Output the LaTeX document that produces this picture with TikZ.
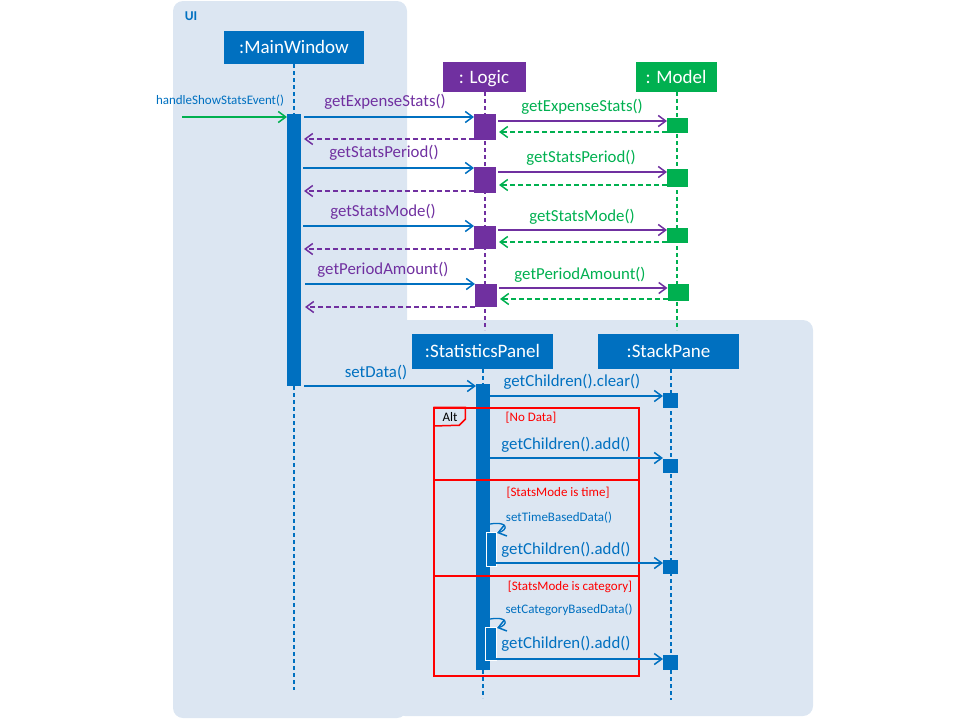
\documentclass[tikz,border=0pt]{standalone}
\usepackage{fontspec}
\setmainfont{Carlito}
\usetikzlibrary{arrows.meta}
\definecolor{uiblue}{HTML}{0070C0}
\definecolor{lpurple}{HTML}{7030A0}
\definecolor{mgreen}{HTML}{00B050}
\definecolor{bgblue}{HTML}{DCE6F2}
\definecolor{altred}{HTML}{FF0000}
\begin{document}
\begin{tikzpicture}[x=1pt,y=-1pt,
  objbox/.style={rectangle, inner sep=0pt, outer sep=0pt, fill=#1, text=white, text height=14pt, text depth=1.8pt, font=\fontsize{19}{22}\selectfont},
  actbar/.style={rectangle, inner sep=0pt, outer sep=0pt, fill=#1},
  nestbar/.style={rectangle, inner sep=0pt, outer sep=0pt, fill=uiblue, draw=white, line width=1pt},
  life/.style={draw=#1, line width=1.5pt, dash pattern=on 4pt off 3pt},
  msg/.style={draw=#1, line width=1.5pt, -{Straight Barb[length=7.5pt,width=11pt,line width=1.5pt]}},
  ret/.style={draw=#1, line width=1.5pt, dash pattern=on 5pt off 3pt, -{Straight Barb[length=7.5pt,width=11pt,line width=1.5pt]}},
  lbl/.style={inner sep=0pt, text=#1, font=\fontsize{16.8}{20}\selectfont},
  slbl/.style={inner sep=0pt, text=#1, font=\fontsize{13}{15}\selectfont},
  frame/.style={draw=altred, line width=1.5pt}]
\useasboundingbox (0,0) rectangle (960,720);
% background regions
\fill[bgblue, rounded corners=10pt] (395,320) rectangle (813,716);
\fill[bgblue, rounded corners=10pt] (173,1) rectangle (407,718);
\node[inner sep=0pt, text=uiblue, font=\bfseries\fontsize{13.5}{15}\selectfont] (uilbl) at (191,16) {UI};
% objects
\node[objbox=uiblue, minimum width=140pt, minimum height=33pt] (mw) at (294,47.5) {:MainWindow};
\node[objbox=lpurple, minimum width=83pt, minimum height=30pt] (lg) at (484,77) {: Logic};
\node[objbox=mgreen, minimum width=81pt, minimum height=30pt] (md) at (676,77) {: Model};
\node[objbox=uiblue, minimum width=141pt, minimum height=35pt] (sp) at (482.5,351.5) {:StatisticsPanel};
\node[objbox=uiblue, minimum width=141pt, minimum height=35pt] (sk) at (668.5,351.5) {:StackPane};
% lifeline ends
\coordinate (mwend) at (294,690);
\coordinate (lgend) at (485,330);
\coordinate (mdend) at (677,330);
\coordinate (spend) at (483,698);
\coordinate (skend) at (671,700);
\draw[life=uiblue] (mw.south -| mwend) -- (mwend);
\draw[life=lpurple] (lg.south -| lgend) -- (lgend);
\draw[life=mgreen] (md.south -| mdend) -- (mdend);
\draw[life=uiblue] (sp.south -| spend) -- (spend);
\draw[life=uiblue] (sk.south -| skend) -- (skend);
% activation bars
\node[actbar=uiblue, minimum width=14pt, minimum height=272pt] (mwbar) at (294,250) {};
\node[actbar=lpurple, minimum width=22pt, minimum height=26pt] (l1) at (485,127) {};
\node[actbar=mgreen, minimum width=21pt, minimum height=15pt] (m1) at (677.5,125.5) {};
\node[actbar=lpurple, minimum width=22pt, minimum height=26pt] (l2) at (485,180) {};
\node[actbar=mgreen, minimum width=21pt, minimum height=18pt] (m2) at (677.5,178) {};
\node[actbar=lpurple, minimum width=22pt, minimum height=23pt] (l3) at (485,237.5) {};
\node[actbar=mgreen, minimum width=21pt, minimum height=15pt] (m3) at (677.5,235.5) {};
\node[actbar=lpurple, minimum width=22pt, minimum height=23pt] (l4) at (486,295.5) {};
\node[actbar=mgreen, minimum width=21pt, minimum height=17pt] (m4) at (678,292.5) {};
\node[actbar=uiblue, minimum width=14pt, minimum height=286pt] (spbar) at (483,527) {};
\node[actbar=uiblue, minimum width=15pt, minimum height=15pt] (s1) at (670.5,400.5) {};
\node[actbar=uiblue, minimum width=15pt, minimum height=14pt] (s2) at (670.5,466) {};
\node[actbar=uiblue, minimum width=15pt, minimum height=14pt] (s3) at (670.5,567) {};
\node[actbar=uiblue, minimum width=15pt, minimum height=15pt] (s4) at (670.5,662.5) {};
\node[nestbar, minimum width=10pt, minimum height=34pt] (n1) at (491,549) {};
\node[nestbar, minimum width=11pt, minimum height=33pt] (n2) at (490.5,643.5) {};
% incoming event
\coordinate (start) at (182,117);
\draw[msg=mgreen] (start) -- (mwbar.west |- start);
\node[slbl=uiblue] (hlbl) at (220,101) {handleShowStatsEvent()};
% getExpenseStats
\draw[msg=uiblue, shorten <=3pt] (mwbar.east |- 0,117) -- (l1.west |- 0,117);
\node[lbl=lpurple] (t1) at (385,102) {getExpenseStats()};
\draw[msg=lpurple, shorten <=2pt] (l1.east |- 0,121) -- (m1.west |- 0,121);
\node[lbl=mgreen] (t1b) at (582,107) {getExpenseStats()};
\draw[ret=mgreen, shorten >=3pt] (m1.west |- 0,132) -- (l1.east |- 0,132);
\draw[ret=lpurple, shorten >=3pt] (l1.west |- 0,139) -- (mwbar.east |- 0,139);
% getStatsPeriod
\draw[msg=uiblue, shorten <=2pt] (mwbar.east |- 0,168) -- (l2.west |- 0,168);
\node[lbl=lpurple] (t2) at (384,153) {getStatsPeriod()};
\draw[msg=lpurple, shorten <=2pt] (l2.east |- 0,172) -- (m2.west |- 0,172);
\node[lbl=mgreen] (t2b) at (581,158) {getStatsPeriod()};
\draw[ret=mgreen, shorten >=3pt] (m2.west |- 0,185) -- (l2.east |- 0,185);
\draw[ret=lpurple, shorten >=3pt] (l2.west |- 0,191) -- (mwbar.east |- 0,191);
% getStatsMode
\draw[msg=uiblue, shorten <=2pt] (mwbar.east |- 0,226) -- (l3.west |- 0,226);
\node[lbl=lpurple] (t3) at (383,212) {getStatsMode()};
\draw[msg=lpurple, shorten <=2pt] (l3.east |- 0,230) -- (m3.west |- 0,230);
\node[lbl=mgreen] (t3b) at (582,217) {getStatsMode()};
\draw[ret=mgreen, shorten >=3pt] (m3.west |- 0,242) -- (l3.east |- 0,242);
\draw[ret=lpurple, shorten >=3pt] (l3.west |- 0,249) -- (mwbar.east |- 0,249);
% getPeriodAmount
\draw[msg=uiblue, shorten <=4pt] (mwbar.east |- 0,284) -- (l4.west |- 0,284);
\node[lbl=lpurple] (t4) at (383,270) {getPeriodAmount()};
\draw[msg=lpurple, shorten <=2pt] (l4.east |- 0,288) -- (m4.west |- 0,288);
\node[lbl=mgreen] (t4b) at (580,275) {getPeriodAmount()};
\draw[ret=mgreen, shorten >=3pt] (m4.west |- 0,299) -- (l4.east |- 0,299);
\draw[ret=lpurple, shorten >=4pt] (l4.west |- 0,307) -- (mwbar.east |- 0,307);
% setData
\draw[msg=uiblue, shorten <=3pt] (mwbar.east |- 0,386) -- (spbar.west |- 0,386);
\node[lbl=uiblue] (t5) at (376,373) {setData()};
\draw[msg=uiblue] (spbar.east |- 0,396) -- (s1.west |- 0,396);
\node[lbl=uiblue] (t6) at (572,382) {getChildren().clear()};
% alt frame
\node[frame, rectangle, inner sep=0pt, minimum width=205pt, minimum height=268pt] (alt) at (536.5,542) {};
\draw[frame] (alt.north west) -- ++(32,0) -- ++(0,12) -- ++(-6,6) -- (alt.west |- 0,426);
\node[slbl=black] (altlbl) at (450,417) {Alt};
\draw[frame] (alt.west |- 0,480) -- (alt.east |- 0,480);
\draw[frame] (alt.west |- 0,576) -- (alt.east |- 0,576);
\node[slbl=altred] (g1) at (531,418) {[No Data]};
\node[slbl=altred] (g2) at (558,493) {[StatsMode is time]};
\node[slbl=altred] (g3) at (570,587) {[StatsMode is category]};
% branch 1
\draw[msg=uiblue] (spbar.east |- 0,458) -- (s2.west |- 0,458);
\node[lbl=uiblue] (t7) at (566,445) {getChildren().add()};
% branch 2
\node[slbl=uiblue] (t8) at (559,518) {setTimeBasedData()};
\draw[msg=uiblue, line width=1.3pt] (spbar.east |- 0,524) .. controls (509,521) and (508,530) .. ([xshift=1pt,yshift=-1pt]n1.north east);
\draw[msg=uiblue] (n1.east |- 0,563) -- (s3.west |- 0,563);
\node[lbl=uiblue] (t9) at (566,550) {getChildren().add()};
% branch 3
\node[slbl=uiblue] (t10) at (569,610) {setCategoryBasedData()};
\draw[msg=uiblue, line width=1.3pt] (spbar.east |- 0,619) .. controls (509,616) and (508,625) .. ([xshift=1pt,yshift=-1pt]n2.north east);
\draw[msg=uiblue] (n2.east |- 0,659) -- (s4.west |- 0,659);
\node[lbl=uiblue] (t11) at (566,644) {getChildren().add()};
\end{tikzpicture}
\end{document}
